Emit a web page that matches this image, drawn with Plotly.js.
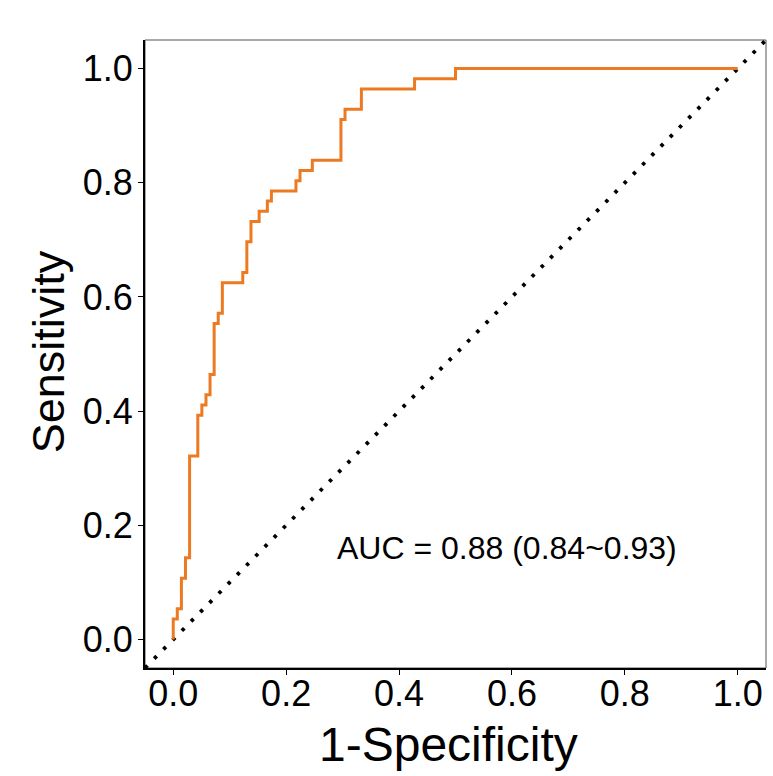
<!DOCTYPE html>
<html>
<head>
<meta charset="utf-8">
<script src="https://cdn.plot.ly/plotly-3.0.1.min.js"></script>
<style>
  html, body { margin: 0; padding: 0; background: #ffffff; }
  #chart { width: 773px; height: 776px; }
</style>
</head>
<body>
<div id="chart"></div>
<script>
// ROC curve vertices: false positive rate (1-Specificity) and sensitivity
const fpr = [0, 0, 0.0072, 0.0072, 0.0145, 0.0145, 0.0217, 0.0217, 0.029, 0.029,
  0.0435, 0.0435, 0.0507, 0.0507, 0.058, 0.058, 0.0652, 0.0652, 0.0725, 0.0725,
  0.0797, 0.0797, 0.087, 0.087, 0.1232, 0.1232, 0.1304, 0.1304, 0.1377, 0.1377,
  0.1522, 0.1522, 0.1667, 0.1667, 0.1739, 0.1739, 0.2174, 0.2174, 0.2246, 0.2246,
  0.2464, 0.2464, 0.2971, 0.2971, 0.3043, 0.3043, 0.3333, 0.3333, 0.4275, 0.4275,
  0.5, 0.5, 1];
const tpr = [0, 0.0357, 0.0357, 0.0536, 0.0536, 0.1071, 0.1071, 0.1429, 0.1429, 0.3214,
  0.3214, 0.3929, 0.3929, 0.4107, 0.4107, 0.4286, 0.4286, 0.4643, 0.4643, 0.5536,
  0.5536, 0.5714, 0.5714, 0.625, 0.625, 0.6429, 0.6429, 0.6964, 0.6964, 0.7321,
  0.7321, 0.75, 0.75, 0.7679, 0.7679, 0.7857, 0.7857, 0.8036, 0.8036, 0.8214,
  0.8214, 0.8393, 0.8393, 0.9107, 0.9107, 0.9286, 0.9286, 0.9643, 0.9643, 0.9821,
  0.9821, 1, 1];

// chance line y = x across the whole axis range
const chance = [-0.05, 1.05];

const aucLabel = 'AUC = 0.88 (0.84~0.93)';
const xTitle = '1-Specificity';
const yTitle = 'Sensitivity';
const tickVals = [0, 0.2, 0.4, 0.6, 0.8, 1.0];
const tickText = ['0.0', '0.2', '0.4', '0.6', '0.8', '1.0'];

const FONT = 'Liberation Sans, Arial, sans-serif';

const traces = [
  {
    x: chance, y: chance, mode: 'lines', type: 'scatter',
    line: { color: '#000000', width: 3.8, dash: '3.5px,9.6px' },
    hoverinfo: 'skip'
  },
  {
    x: fpr, y: tpr, mode: 'lines', type: 'scatter',
    line: { color: '#EC7A22', width: 3 }
  }
];

const axisCommon = {
  range: [-0.05, 1.05],
  tickvals: tickVals,
  ticktext: tickText,
  ticks: 'outside',
  ticklen: 5,
  tickwidth: 1,
  tickcolor: '#000000',
  showline: true,
  linecolor: '#000000',
  linewidth: 2,
  showgrid: false,
  zeroline: false,
  tickfont: { family: FONT, size: 36, color: '#000000' }
};

const layout = {
  width: 773,
  height: 776,
  margin: { l: 145, r: 7, t: 40, b: 108 },
  paper_bgcolor: '#ffffff',
  plot_bgcolor: '#ffffff',
  showlegend: false,
  xaxis: Object.assign({}, axisCommon, { ticklabelstandoff: -12 }),
  yaxis: Object.assign({}, axisCommon, { ticklabelstandoff: -2 }),
  shapes: [
    {
      type: 'rect', xref: 'paper', yref: 'paper', x0: 0, y0: 0, x1: 1, y1: 1,
      line: { color: '#555555', width: 1 }, layer: 'below'
    }
  ],
  annotations: [
    {
      x: 0.592, y: 0.161, xref: 'x', yref: 'y',
      text: aucLabel, showarrow: false,
      font: { family: FONT, size: 32, color: '#000000' }
    },
    {
      // x-axis title
      x: 0.488, y: -0.122, xref: 'paper', yref: 'paper',
      xanchor: 'center', yanchor: 'middle',
      text: xTitle, showarrow: false,
      font: { family: FONT, size: 48, color: '#000000' }
    },
    {
      // y-axis title
      x: -0.156, y: 0.503, xref: 'paper', yref: 'paper',
      xanchor: 'center', yanchor: 'middle', textangle: -90,
      text: yTitle, showarrow: false,
      font: { family: FONT, size: 45, color: '#000000' }
    }
  ]
};

Plotly.newPlot('chart', traces, layout, { displayModeBar: false, staticPlot: true });
</script>
</body>
</html>
